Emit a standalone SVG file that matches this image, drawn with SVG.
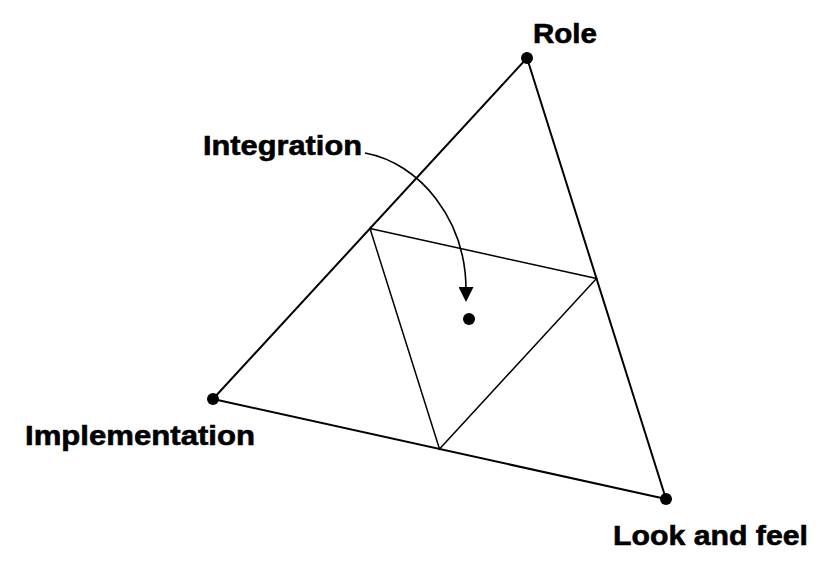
<svg xmlns="http://www.w3.org/2000/svg" width="832" height="574" viewBox="0 0 832 574">
<style>
.outer{fill:none;stroke:#000;stroke-width:2;stroke-linejoin:round}
.inner{fill:none;stroke:#000;stroke-width:1.5}
.dot{fill:#000}
.lbl{font-family:"Liberation Sans",Arial,sans-serif;font-weight:bold;font-size:28px;fill:#000;stroke:#000;stroke-width:0.6}
.conn{fill:none;stroke:#000;stroke-width:1.6}
</style>
<defs>
<marker id="ah" viewBox="0 0 10 10" refX="2" refY="5" markerWidth="16" markerHeight="15" markerUnits="userSpaceOnUse" orient="auto">
<path d="M0,0 L10,5 L0,10 z" fill="#000"/>
</marker>
</defs>
<rect width="832" height="574" fill="#fff"/>
<g id="triangle">
<polygon class="outer" points="527,58 213,399 666,499"/>
<polygon class="inner" points="370,228.5 596.5,278.5 439.5,449"/>
</g>
<g id="role">
<circle class="dot" cx="527" cy="58" r="6"/>
<text class="lbl" x="533" y="43" textLength="64" lengthAdjust="spacingAndGlyphs">Role</text>
</g>
<g id="implementation">
<circle class="dot" cx="213" cy="399" r="6"/>
<text class="lbl" x="25" y="445" textLength="230" lengthAdjust="spacingAndGlyphs">Implementation</text>
</g>
<g id="lookandfeel">
<circle class="dot" cx="666" cy="499" r="6"/>
<text class="lbl" x="613" y="545" textLength="195" lengthAdjust="spacingAndGlyphs">Look and feel</text>
</g>
<g id="integration">
<circle class="dot" cx="469" cy="319" r="6"/>
<text class="lbl" x="203" y="155" textLength="159" lengthAdjust="spacingAndGlyphs">Integration</text>
</g>
<g id="connectors">
<path class="conn" d="M365,153 C420,163 466,220 466,290" marker-end="url(#ah)"/>
</g>
</svg>
